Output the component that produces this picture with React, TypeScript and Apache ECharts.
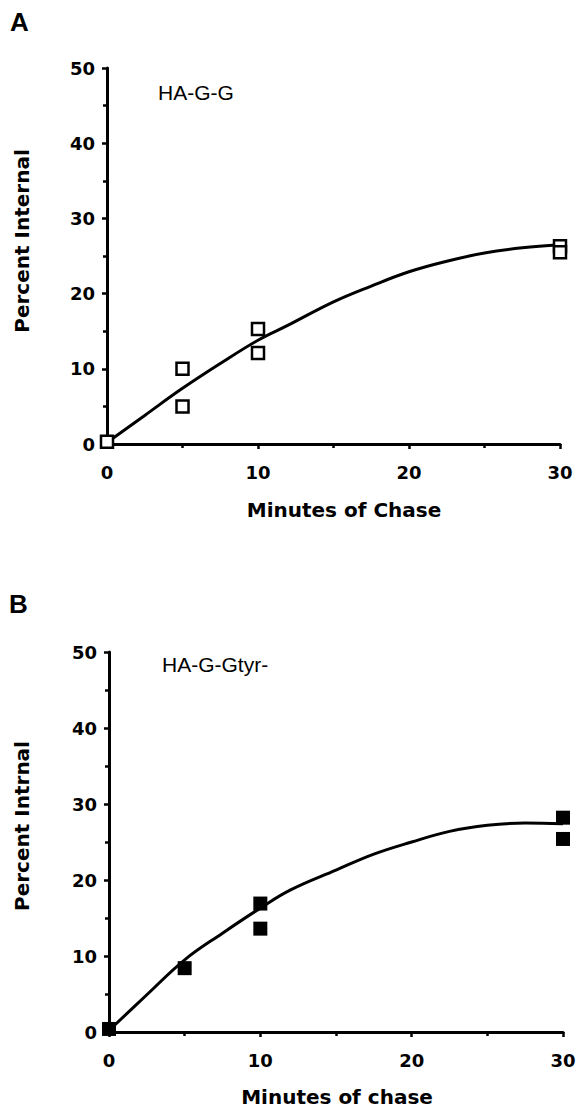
import React, { useEffect, useRef } from "react";
import * as echarts from "echarts";

// Panel A: HA-G-G (open squares)
const panelAPointsX = [0, 5, 5, 10, 10, 30, 30];
const panelAPointsY = [0.3, 10, 5, 15.3, 12.1, 26.3, 25.5];
const panelACurveX = [0, 2.5, 5, 7.5, 10, 12, 15, 17.5, 20, 22.5, 25, 27.5, 30];
const panelACurveY = [0.2, 3.8, 7.4, 10.7, 13.8, 15.8, 18.9, 21.0, 22.9, 24.3, 25.4, 26.1, 26.5];

// Panel B: HA-G-Gtyr- (filled squares)
const panelBPointsX = [0, 5, 10, 10, 30, 30];
const panelBPointsY = [0.4, 8.4, 16.9, 13.6, 28.2, 25.4];
const panelBCurveX = [0, 2.5, 5, 7.5, 10, 12, 15, 17.5, 20, 22.5, 25, 27.5, 30];
const panelBCurveY = [0.2, 4.9, 9.5, 13.0, 16.3, 18.7, 21.3, 23.4, 25.0, 26.4, 27.2, 27.5, 27.4];

const xMin = 0;
const xMax = 30;
const xInterval = 10;
const yMin = 0;
const yMax = 50;
const yInterval = 10;

const panelLabels = ["A", "B"];
const sampleNames = ["HA-G-G", "HA-G-Gtyr-"];
const yTitles = ["Percent Internal", "Percent Intrnal"];
const xTitles = ["Minutes of Chase", "Minutes of chase"];

const pairs = (xs: number[], ys: number[]) => xs.map((x, i) => [x, ys[i]]);

const tickFont = {
  color: "#000",
  fontSize: 18,
  fontWeight: "bold" as const,
  fontFamily: "DejaVu Sans",
};

function xAxisCfg(gridIndex: number) {
  return {
    type: "value" as const,
    gridIndex,
    min: xMin,
    max: xMax,
    interval: xInterval,
    axisLine: { show: true, onZero: false, lineStyle: { color: "#000", width: 3 } },
    axisTick: { show: true, length: 5, lineStyle: { color: "#000", width: 2.5 } },
    minorTick: { show: true, splitNumber: 2, length: 4, lineStyle: { color: "#000", width: 2.5 } },
    splitLine: { show: false },
    minorSplitLine: { show: false },
    axisLabel: { margin: 19, ...tickFont },
  };
}

function yAxisCfg(gridIndex: number) {
  return {
    type: "value" as const,
    gridIndex,
    min: yMin,
    max: yMax,
    interval: yInterval,
    axisLine: { show: true, onZero: false, lineStyle: { color: "#000", width: 3 } },
    axisTick: { show: true, length: 5, lineStyle: { color: "#000", width: 2.5 } },
    minorTick: { show: true, splitNumber: 2, length: 4, lineStyle: { color: "#000", width: 2.5 } },
    splitLine: { show: false },
    minorSplitLine: { show: false },
    axisLabel: { margin: 12, ...tickFont },
  };
}

function textEl(
  text: string,
  x: number,
  y: number,
  fontSize: number,
  fontWeight: string,
  fontFamily: string,
  align: string,
  rotation = 0
) {
  return {
    type: "text" as const,
    x,
    y,
    rotation,
    style: {
      text,
      fill: "#000",
      fontSize,
      fontWeight,
      fontFamily,
      align,
      verticalAlign: "middle",
      textAlign: align,
      textVerticalAlign: "middle",
    },
  };
}

export default function App() {
  const ref = useRef<HTMLDivElement>(null);

  useEffect(() => {
    document.body.style.margin = "0";
    const chart = echarts.init(ref.current!, null, { renderer: "svg" });
    const option = {
      animation: false,
      backgroundColor: "#fff",
      grid: [
        { left: 107, top: 68, width: 453, height: 376 },
        { left: 109, top: 652, width: 454, height: 380 },
      ],
      xAxis: [xAxisCfg(0), xAxisCfg(1)],
      yAxis: [yAxisCfg(0), yAxisCfg(1)],
      series: [
        {
          type: "line",
          xAxisIndex: 0,
          yAxisIndex: 0,
          data: pairs(panelACurveX, panelACurveY),
          smooth: 0.4,
          showSymbol: false,
          lineStyle: { color: "#000", width: 3 },
          z: 2,
        },
        {
          type: "scatter",
          xAxisIndex: 0,
          yAxisIndex: 0,
          data: pairs(panelAPointsX, panelAPointsY),
          symbol: "rect",
          symbolSize: 12,
          clip: false,
          itemStyle: { color: "#fff", borderColor: "#000", borderWidth: 2.5, opacity: 1 },
          z: 3,
        },
        {
          type: "line",
          xAxisIndex: 1,
          yAxisIndex: 1,
          data: pairs(panelBCurveX, panelBCurveY),
          smooth: 0.4,
          showSymbol: false,
          lineStyle: { color: "#000", width: 3 },
          z: 2,
        },
        {
          type: "scatter",
          xAxisIndex: 1,
          yAxisIndex: 1,
          data: pairs(panelBPointsX, panelBPointsY),
          symbol: "rect",
          symbolSize: 14,
          clip: false,
          itemStyle: { color: "#000", opacity: 1 },
          z: 3,
        },
      ],
      graphic: [
        textEl(panelLabels[0], 10, 22, 26, "bold", "Liberation Sans", "left"),
        textEl(panelLabels[1], 9, 604, 26, "bold", "Liberation Sans", "left"),
        textEl(sampleNames[0], 158, 92, 21, "normal", "Liberation Sans", "left"),
        textEl(sampleNames[1], 162, 664, 21, "normal", "Liberation Sans", "left"),
        textEl(yTitles[0], 22, 241, 20, "bold", "DejaVu Sans", "center", Math.PI / 2),
        textEl(yTitles[1], 22, 826, 20, "bold", "DejaVu Sans", "center", Math.PI / 2),
        textEl(xTitles[0], 344, 510, 20, "bold", "DejaVu Sans", "center"),
        textEl(xTitles[1], 337, 1097, 20, "bold", "DejaVu Sans", "center"),
      ],
    };
    chart.setOption(option as any);
    return () => chart.dispose();
  }, []);

  return <div ref={ref} style={{ width: 580, height: 1109 }} />;
}
